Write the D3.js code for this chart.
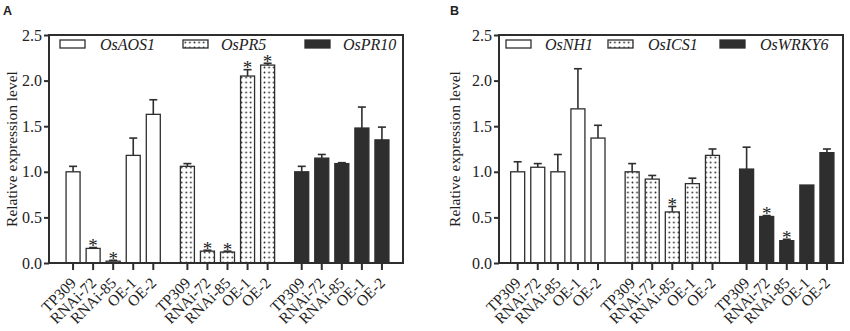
<!DOCTYPE html>
<head>
  <meta charset="utf-8">
  <script src="https://d3js.org/d3.v7.min.js"></script>
  <style>
    body { margin: 0; background: #fff; }
    svg { width: 850px; height: 331px; display: block; }
  </style>
</head>

<body>
  <svg></svg>
  <script>
    // lines and genes (values are relative expression, mean and mean + SD)
    var lines = ['TP309', 'RNAi-72', 'RNAi-85', 'OE-1', 'OE-2'];
    var yTicks = [0, 0.5, 1.0, 1.5, 2.0, 2.5];

    var genesA = ['OsAOS1', 'OsPR5', 'OsPR10'];
    var meansA = [
      [1.00, 0.16, 0.02, 1.18, 1.63],
      [1.06, 0.13, 0.12, 2.05, 2.17],
      [1.00, 1.15, 1.09, 1.48, 1.35]
    ];
    var errTopA = [
      [1.06, 0.17, 0.03, 1.37, 1.79],
      [1.09, 0.14, 0.13, 2.12, 2.19],
      [1.06, 1.19, 1.10, 1.71, 1.49]
    ];
    var starsA = [
      [0, 1, 1, 0, 0],
      [0, 1, 1, 1, 1],
      [0, 0, 0, 0, 0]
    ];

    var genesB = ['OsNH1', 'OsICS1', 'OsWRKY6'];
    var meansB = [
      [1.00, 1.05, 1.00, 1.69, 1.37],
      [1.00, 0.92, 0.56, 0.87, 1.18],
      [1.03, 0.51, 0.245, 0.855, 1.21]
    ];
    var errTopB = [
      [1.11, 1.09, 1.19, 2.13, 1.51],
      [1.09, 0.96, 0.62, 0.93, 1.25],
      [1.27, 0.52, 0.26, 0.855, 1.25]
    ];
    var starsB = [
      [0, 0, 0, 0, 0],
      [0, 0, 1, 0, 0],
      [0, 1, 1, 0, 0]
    ];

    var ink = '#2e2e2e';
    var serif = '"Liberation Serif", "Times New Roman", serif';
    var svg = d3.select('svg');

    // dotted fill for the second gene of each panel
    var pat = svg.append('defs').append('pattern')
      .attr('id', 'dots')
      .attr('patternUnits', 'userSpaceOnUse')
      .attr('width', 4.6).attr('height', 5);
    pat.append('rect').attr('width', 4.6).attr('height', 5).attr('fill', '#fff');
    pat.append('circle').attr('cx', 2.3).attr('cy', 2.5).attr('r', 0.9).attr('fill', '#333');

    var fills = ['#fff', 'url(#dots)', ink];

    function drawPanel(p) {
      var g = svg.append('g');
      var y = d3.scaleLinear().domain([0, 2.5]).range([263, 35]);
      // slot position: 5 bars per gene, then a wider gap before the next gene
      var x = d3.scaleLinear().domain(p.xDomain).range([p.left, p.right]);
      var slot = function(gi, i) { return gi * 5.7 + i; };
      var bw = 14;

      var data = [];
      p.genes.forEach(function(gene, gi) {
        lines.forEach(function(line, i) {
          data.push({ gi: gi, i: i, line: line, v: p.means[gi][i],
            e: p.errTop[gi][i], star: p.stars[gi][i] });
        });
      });

      // error bars behind bars
      var eb = g.selectAll('g.err').data(data.filter(function(d) { return d.e > d.v; }))
        .enter().append('g').attr('class', 'err')
        .attr('stroke', ink).attr('stroke-width', 1.6);
      eb.append('line')
        .attr('x1', function(d) { return x(slot(d.gi, d.i)); })
        .attr('x2', function(d) { return x(slot(d.gi, d.i)); })
        .attr('y1', function(d) { return y(d.v); })
        .attr('y2', function(d) { return y(d.e); });
      eb.append('line')
        .attr('x1', function(d) { return x(slot(d.gi, d.i)) - 4; })
        .attr('x2', function(d) { return x(slot(d.gi, d.i)) + 4; })
        .attr('y1', function(d) { return y(d.e); })
        .attr('y2', function(d) { return y(d.e); });

      g.selectAll('rect.bar').data(data).enter().append('rect')
        .attr('class', 'bar')
        .attr('x', function(d) { return x(slot(d.gi, d.i)) - bw / 2; })
        .attr('y', function(d) { return y(d.v); })
        .attr('width', bw)
        .attr('height', function(d) { return y(0) - y(d.v); })
        .attr('fill', function(d) { return fills[d.gi]; })
        .attr('stroke', ink).attr('stroke-width', 1.3);

      g.selectAll('text.star').data(data.filter(function(d) { return d.star; }))
        .enter().append('text')
        .attr('class', 'star')
        .attr('x', function(d) { return x(slot(d.gi, d.i)); })
        .attr('y', function(d) { return y(d.e) + 4.5; })
        .attr('text-anchor', 'middle')
        .style('font-family', serif)
        .style('font-size', '19px')
        .attr('fill', '#222')
        .text('*');

      // frame
      g.append('rect')
        .attr('x', p.left).attr('y', 35)
        .attr('width', p.right - p.left).attr('height', 228)
        .attr('fill', 'none').attr('stroke', ink).attr('stroke-width', 2);

      // y axis
      var yAxis = g.append('g')
        .attr('transform', 'translate(' + p.left + ',0)')
        .call(d3.axisLeft(y).tickValues(yTicks).tickFormat(d3.format('.1f'))
          .tickSize(5).tickPadding(2));
      yAxis.select('.domain').remove();
      yAxis.selectAll('line').attr('stroke', ink).attr('stroke-width', 2);
      yAxis.selectAll('text').attr('fill', '#222')
        .style('font-size', '16px')
        .style('font-family', serif);

      // x ticks and rotated line names
      var xt = g.selectAll('g.xt').data(data).enter().append('g')
        .attr('class', 'xt')
        .attr('transform', function(d) { return 'translate(' + x(slot(d.gi, d.i)) + ',263)'; });
      xt.append('line').attr('y2', 7).attr('stroke', ink).attr('stroke-width', 2);
      xt.append('text')
        .attr('transform', 'translate(4,21)rotate(-45)')
        .attr('text-anchor', 'end')
        .attr('fill', '#222')
        .style('font-family', serif)
        .style('font-size', '15.5px')
        .text(function(d) { return d.line; });

      // y title
      g.append('text')
        .attr('transform', 'translate(' + p.titleX + ',149)rotate(-90)')
        .attr('text-anchor', 'middle')
        .attr('fill', '#222')
        .style('font-family', serif)
        .style('font-size', '15.5px')
        .text('Relative expression level');

      // panel letter
      g.append('text')
        .attr('x', p.letterX).attr('y', 15)
        .attr('fill', '#222')
        .style('font-family', '"Liberation Sans", Arial, sans-serif')
        .style('font-weight', 'bold')
        .style('font-size', '12.5px')
        .text(p.letter);

      // legend
      var lg = g.selectAll('g.lg').data(p.genes).enter().append('g')
        .attr('class', 'lg')
        .attr('transform', function(d, i) { return 'translate(' + p.legendX[i] + ',40)'; });
      lg.append('rect')
        .attr('width', 25).attr('height', 8)
        .attr('fill', function(d, i) { return fills[i]; })
        .attr('stroke', ink).attr('stroke-width', 1.3);
      lg.append('text')
        .attr('x', function(d, i) { return p.legendTextDx[i]; })
        .attr('y', 10)
        .attr('fill', '#222')
        .style('font-family', serif)
        .style('font-style', 'italic')
        .style('font-size', '16px')
        .text(function(d) { return d; });
    }

    drawPanel({
      letter: 'A', letterX: 3, titleX: 17,
      left: 49, right: 403, xDomain: [-1.2, 16.45],
      genes: genesA, means: meansA, errTop: errTopA, stars: starsA,
      legendX: [60, 183, 305], legendTextDx: [40, 38, 38]
    });
    drawPanel({
      letter: 'B', letterX: 450, titleX: 460,
      left: 499, right: 843, xDomain: [-0.93, 16.2],
      genes: genesB, means: meansB, errTop: errTopB, stars: starsB,
      legendX: [506, 608, 720], legendTextDx: [39, 40, 40]
    });
  </script>
</body>
